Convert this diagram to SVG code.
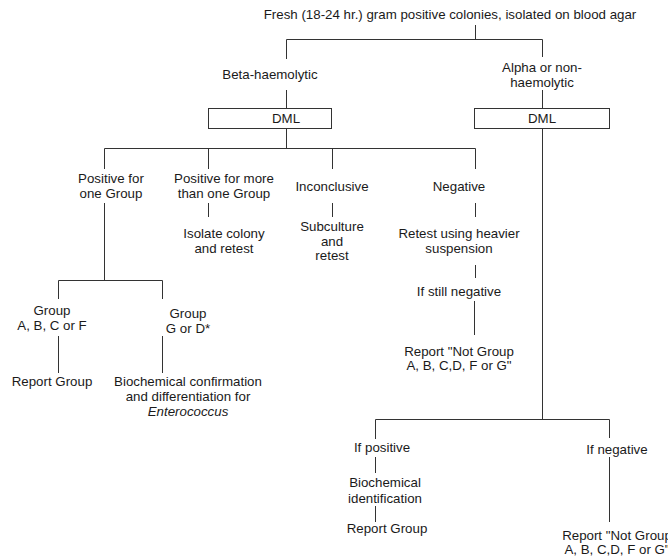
<svg xmlns="http://www.w3.org/2000/svg" width="668" height="559" viewBox="0 0 668 559">
<style>
text{font-family:"Liberation Sans",Arial,sans-serif;font-size:13.3px;fill:#1a1a1a;text-anchor:middle}
.c line,.c polyline{stroke:#333;stroke-width:1;fill:none}
.box{fill:#fff;stroke:#333;stroke-width:1}
.it{font-style:italic}
</style>
<rect width="668" height="559" fill="#fff"/>
<g class="c" id="connectors">
<line x1="475.5" y1="25" x2="475.5" y2="39.5"/>
<polyline points="286.5,59 286.5,39.5 542.5,39.5 542.5,57"/>
<line x1="286.5" y1="90" x2="286.5" y2="108"/>
<line x1="542.5" y1="90" x2="542.5" y2="108"/>
<line x1="286.5" y1="128" x2="286.5" y2="148.5"/>
<polyline points="104.5,169 104.5,148.5 475.5,148.5 475.5,169"/>
<line x1="208.5" y1="148.5" x2="208.5" y2="169"/>
<line x1="332.5" y1="148.5" x2="332.5" y2="169"/>
<line x1="208.5" y1="203" x2="208.5" y2="217"/>
<line x1="332.5" y1="203" x2="332.5" y2="217"/>
<line x1="475.5" y1="203" x2="475.5" y2="217"/>
<line x1="475.5" y1="265" x2="475.5" y2="278"/>
<line x1="104.5" y1="203" x2="104.5" y2="280.5"/>
<polyline points="58.5,299 58.5,280.5 162.5,280.5 162.5,299"/>
<line x1="58.5" y1="336" x2="58.5" y2="373"/>
<line x1="162.5" y1="336" x2="162.5" y2="373"/>
<line x1="474.5" y1="301" x2="474.5" y2="335"/>
<line x1="542.5" y1="128" x2="542.5" y2="419.5"/>
<polyline points="375.5,439 375.5,419.5 609.5,419.5 609.5,438"/>
<line x1="375.5" y1="457" x2="375.5" y2="473"/>
<line x1="375.5" y1="506" x2="375.5" y2="522"/>
<line x1="609.5" y1="457" x2="609.5" y2="522"/>
</g>
<g id="root"><text x="450" y="19">Fresh (18-24 hr.) gram positive colonies, isolated on blood agar</text></g>
<g id="beta"><text x="270" y="79">Beta-haemolytic</text></g>
<g id="alpha"><text x="542" y="72">Alpha or non-</text><text x="542" y="87">haemolytic</text></g>
<g id="dml1"><rect class="box" x="208.5" y="108.5" width="123" height="20"/><text x="286" y="123">DML</text></g>
<g id="dml2"><rect class="box" x="474.5" y="108.5" width="135" height="20"/><text x="542" y="123">DML</text></g>
<g id="pos1"><text x="111" y="183">Positive for</text><text x="111" y="198">one Group</text></g>
<g id="posmore"><text x="224" y="183">Positive for more</text><text x="224" y="198">than one Group</text></g>
<g id="isolate"><text x="224" y="238">Isolate colony</text><text x="224" y="253">and retest</text></g>
<g id="inconclusive"><text x="332" y="191">Inconclusive</text></g>
<g id="subculture"><text x="332" y="231">Subculture</text><text x="332" y="246">and</text><text x="332" y="260">retest</text></g>
<g id="negative"><text x="459" y="191">Negative</text></g>
<g id="retest"><text x="459" y="238">Retest using heavier</text><text x="459" y="253">suspension</text></g>
<g id="stillneg"><text x="459" y="296">If still negative</text></g>
<g id="notgroup1"><text x="459" y="356">Report "Not Group</text><text x="459" y="370">A, B, C,D, F or G"</text></g>
<g id="groupabcf"><text x="52" y="315">Group</text><text x="52" y="330">A, B, C or F</text></g>
<g id="groupgd"><text x="188" y="318">Group</text><text x="188" y="333">G or D*</text></g>
<g id="report1"><text x="52" y="386">Report Group</text></g>
<g id="biochem1"><text x="188" y="386">Biochemical confirmation</text><text x="188" y="401">and differentiation for</text><text class="it" x="188" y="416">Enterococcus</text></g>
<g id="ifpos"><text x="382" y="452">If positive</text></g>
<g id="biochem2"><text x="385" y="487">Biochemical</text><text x="385" y="503">identification</text></g>
<g id="report2"><text x="387" y="533">Report Group</text></g>
<g id="ifneg"><text x="617" y="454">If negative</text></g>
<g id="notgroup2"><text x="617" y="540">Report "Not Group</text><text x="617" y="554">A, B, C,D, F or G"</text></g>
</svg>
